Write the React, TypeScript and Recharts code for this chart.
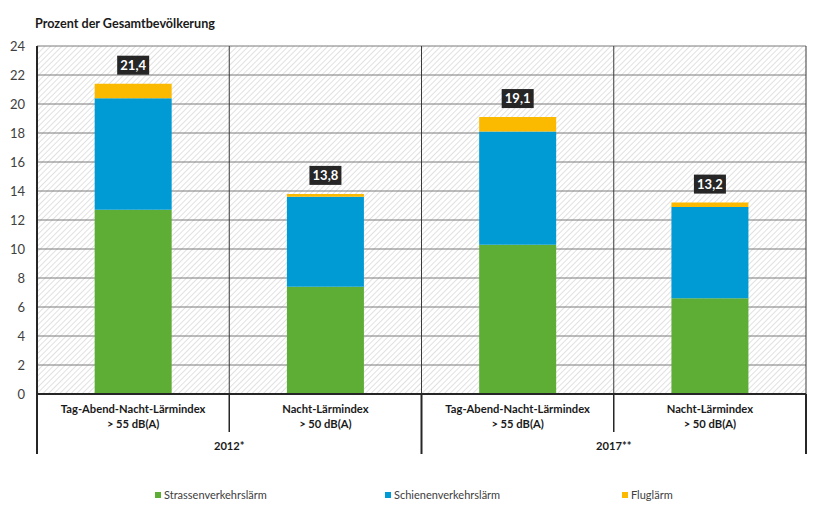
import React from 'react';
import { BarChart, Bar, XAxis, YAxis, CartesianGrid, Legend, LabelList } from 'recharts';

const labelLine1 = ['Tag-Abend-Nacht-Lärmindex', 'Nacht-Lärmindex', 'Tag-Abend-Nacht-Lärmindex', 'Nacht-Lärmindex'];
const labelLine2 = ['> 55 dB(A)', '> 50 dB(A)', '> 55 dB(A)', '> 50 dB(A)'];
const groupLabels = ['2012*', '2017**'];
const strassen = [12.7, 7.4, 10.3, 6.6];
const schiene = [7.7, 6.2, 7.8, 6.3];
const flug = [1.0, 0.2, 1.0, 0.3];
const totals = [21.4, 13.8, 19.1, 13.2];
const yTicks = [0, 2, 4, 6, 8, 10, 12, 14, 16, 18, 20, 22, 24];
const seriesNames = ['Strassenverkehrslärm', 'Schienenverkehrslärm', 'Fluglärm'];
const seriesKeys = ['strassen', 'schiene', 'flug'];
const colors = ['#5EAD35', '#009BD5', '#FBBA00'];
const title = 'Prozent der Gesamtbevölkerung';

const data = labelLine1.map((_, i) => ({
  key: `c${i}`,
  strassen: strassen[i],
  schiene: schiene[i],
  flug: flug[i],
  total: totals[i],
}));

const W = 827;
const H = 516;
const MARGIN = { top: 46, right: 21, bottom: 0, left: 0 };
const Y_W = 37;
const X_H = 70;
const LEGEND_H = 52;
const BAND = (W - MARGIN.left - MARGIN.right - Y_W) / labelLine1.length;
const FONT = 'Lato, "Open Sans", "DejaVu Sans", sans-serif';
const legendLeft = [155, 385, 622];

const XTick = (props: any) => {
  const { x, y, payload } = props;
  const i = payload?.index ?? props.index ?? 0;
  const half = BAND / 2;
  const stroke = '#262626';
  return (
    <g>
      <text x={x} y={y + 19} textAnchor="middle" fontFamily={FONT} fontWeight="bold" fontSize={11.2} fill="#1a1a1a">
        {labelLine1[i]}
      </text>
      <text x={x} y={y + 34} textAnchor="middle" fontFamily={FONT} fontWeight="bold" fontSize={11.2} fill="#1a1a1a">
        {labelLine2[i]}
      </text>
      {i === 0 && <line x1={x - half} x2={x - half} y1={y} y2={y + 60} stroke={stroke} strokeWidth={2} />}
      <line x1={x + half} x2={x + half} y1={y} y2={y + (i % 2 === 0 ? 38 : 60)} stroke={stroke} strokeWidth={i % 2 === 0 ? 1.5 : 2} />
      {i % 2 === 0 && (
        <text x={x + half} y={y + 56} textAnchor="middle" fontFamily={FONT} fontWeight="bold" fontSize={11.2} fill="#1a1a1a">
          {groupLabels[i / 2]}
        </text>
      )}
    </g>
  );
};

const TotalLabel = (props: any) => {
  const { x, y, width, value } = props;
  const cx = Number(x) + Number(width) / 2;
  const text = Number(value).toFixed(1).replace('.', ',');
  return (
    <g>
      <rect x={cx - 16} y={Number(y) - 28} width={32} height={19} fill="#262626" />
      <text x={cx} y={Number(y) - 14} textAnchor="middle" fill="#ffffff" fontWeight="bold" fontSize={13} fontFamily={FONT}>
        {text}
      </text>
    </g>
  );
};

const LegendContent = () => (
  <div style={{ height: LEGEND_H, position: 'relative', fontFamily: FONT, fontSize: 11, color: '#404040' }}>
    {seriesNames.map((n, i) => (
      <div
        key={n}
        style={{ position: 'absolute', left: legendLeft[i], top: 24, display: 'flex', alignItems: 'center', lineHeight: '13px', whiteSpace: 'nowrap' }}
      >
        <span style={{ display: 'inline-block', width: 6, height: 6, background: colors[i], marginRight: 3 }} />
        {n}
      </div>
    ))}
  </div>
);

export default function App() {
  return (
    <div style={{ position: 'absolute', left: 0, top: 0, width: W, height: H, background: '#fff' }}>
      <div
        style={{
          position: 'absolute',
          left: 35,
          top: 16,
          fontFamily: FONT,
          fontWeight: 'bold',
          fontSize: 12.6,
          lineHeight: '16px',
          color: '#1a1a1a',
          whiteSpace: 'nowrap',
        }}
      >
        {title}
      </div>
      <BarChart width={W} height={H} data={data} margin={MARGIN} barCategoryGap="30%">
        <defs>
          <pattern id="hatch" patternUnits="userSpaceOnUse" width={4} height={4} patternTransform="rotate(45)">
            <rect x={0} y={0} width={4} height={4} fill="#ffffff" />
            <line x1={0} y1={0} x2={0} y2={4} stroke="#c8c8c8" strokeWidth={1.1} />
          </pattern>
        </defs>
        <CartesianGrid vertical={false} fill="url(#hatch)" fillOpacity={1} stroke="#7a7a7a" strokeWidth={1} />
        <CartesianGrid
          horizontal={false}
          stroke="#3a3a3a"
          strokeWidth={1}
          verticalCoordinatesGenerator={({ offset }: any) =>
            [1, 2, 3, 4].map((k) => offset.left + (k * offset.width) / labelLine1.length)
          }
        />
        <XAxis
          dataKey="key"
          height={X_H}
          interval={0}
          tickLine={false}
          tickSize={0}
          tickMargin={0}
          axisLine={{ stroke: '#262626', strokeWidth: 2 }}
          tick={<XTick />}
        />
        <YAxis
          type="number"
          domain={[0, 24]}
          ticks={yTicks}
          interval={0}
          width={Y_W}
          tickLine={false}
          tickSize={0}
          tickMargin={12}
          axisLine={{ stroke: '#262626', strokeWidth: 2 }}
          tick={{ fontSize: 13, fill: '#404040', fontFamily: FONT }}
        />
        <Legend verticalAlign="bottom" height={LEGEND_H} content={<LegendContent />} />
        {seriesKeys.map((k, i) => (
          <Bar key={k} dataKey={k} name={seriesNames[i]} stackId="a" fill={colors[i]} isAnimationActive={false}>
            {i === seriesKeys.length - 1 && <LabelList dataKey="total" content={<TotalLabel />} />}
          </Bar>
        ))}
      </BarChart>
    </div>
  );
}
